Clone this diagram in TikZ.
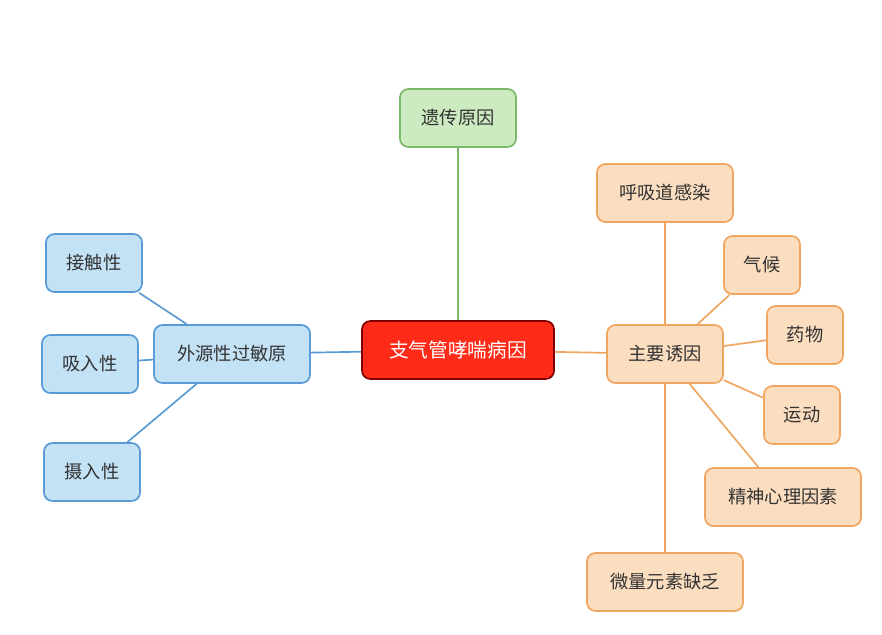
\documentclass[tikz,border=0pt]{standalone}
\usepackage{fontspec}
\setmainfont{Noto Sans CJK SC}
\definecolor{blueline}{HTML}{5A9BD5}
\definecolor{bluefill}{HTML}{C4E2F6}
\definecolor{greenline}{HTML}{7CB86A}
\definecolor{greenfill}{HTML}{CDEBC0}
\definecolor{orangeline}{HTML}{F0A560}
\definecolor{orangefill}{HTML}{FBDDC0}
\tikzset{
  box/.style={draw, rounded corners=6pt, line width=1.2pt, minimum height=1.45cm, inner xsep=8pt, font=\fontsize{13}{15}\selectfont, text=black!80},
  bluebox/.style={box, draw=blueline, fill=bluefill},
  orangebox/.style={box, draw=orangeline, fill=orangefill},
  greenbox/.style={box, draw=greenline, fill=greenfill},
  rootbox/.style={box, draw=red!50!black, fill=red!85!orange!90, text=white, font=\fontsize{14}{16}\selectfont, minimum width=4.8cm},
  link/.style={line width=1.2pt}
}
\begin{document}
\begin{tikzpicture}[x=0.025cm, y=-0.025cm]
  \useasboundingbox (0,0) rectangle (882,634);
  \fill[white] (0,0) rectangle (882,634);
  % nodes
  \node[rootbox] (root) at (458,350) {支气管哮喘病因};
  \node[greenbox, minimum width=2.9cm] (gene) at (458,118) {遗传原因};
  \node[bluebox, minimum width=3.9cm] (ext) at (232,354) {外源性过敏原};
  \node[bluebox, minimum width=2.4cm] (touch) at (94,263) {接触性};
  \node[bluebox, minimum width=2.4cm] (inhale) at (90,364) {吸入性};
  \node[bluebox, minimum width=2.4cm] (eat) at (92,472) {摄入性};
  \node[orangebox, minimum width=2.9cm] (main) at (665,354) {主要诱因};
  \node[orangebox, minimum width=3.4cm] (resp) at (665,193) {呼吸道感染};
  \node[orangebox, minimum width=1.9cm] (climate) at (762,265) {气候};
  \node[orangebox, minimum width=1.9cm] (drug) at (805,335) {药物};
  \node[orangebox, minimum width=1.9cm] (sport) at (802,415) {运动};
  \node[orangebox, minimum width=3.9cm] (mind) at (783,497) {精神心理因素};
  \node[orangebox, minimum width=3.9cm] (trace) at (665,582) {微量元素缺乏};
  % links
  \draw[link, greenline] (root) -- (gene);
  \draw[link, blueline] (root) -- (ext);
  \draw[link, blueline] (ext) -- (touch);
  \draw[link, blueline] (ext) -- (inhale);
  \draw[link, blueline] (ext) -- (eat);
  \draw[link, orangeline] (root) -- (main);
  \draw[link, orangeline] (main) -- (resp);
  \draw[link, orangeline] (main) -- (climate);
  \draw[link, orangeline] (main) -- (drug);
  \draw[link, orangeline] (main) -- (sport);
  \draw[link, orangeline] (main) -- (mind);
  \draw[link, orangeline] (main) -- (trace);
\end{tikzpicture}
\end{document}
